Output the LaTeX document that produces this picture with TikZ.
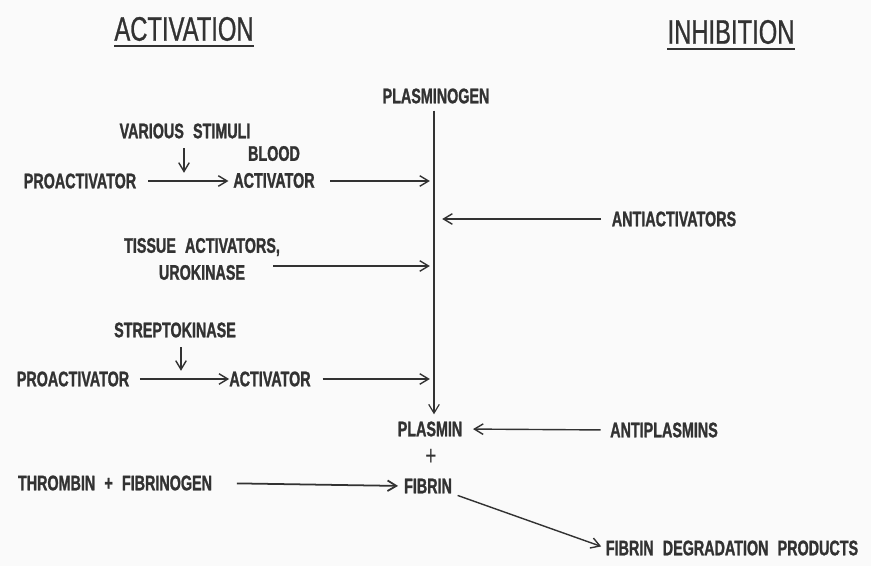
\documentclass[tikz,border=0pt]{standalone}
\usepackage{fontspec}
\newfontfamily\labelfont[FakeStretch=0.68,WordSpace=2.3,BoldFeatures={FakeBold=1.2}]{Liberation Sans}
\newfontfamily\titlefont[FakeStretch=0.7,FakeBold=0.8]{Liberation Sans}
\usetikzlibrary{arrows.meta}
\definecolor{ink}{RGB}{50,50,50}
\definecolor{paper}{RGB}{250,250,250}

\tikzset{
  lbl/.style={font=\labelfont\bfseries\fontsize{18}{20}\selectfont,text=ink,inner sep=0pt,align=center},
  ttl/.style={font=\titlefont\fontsize{29}{32}\selectfont,text=ink,inner sep=0pt},
  arr/.style={draw=ink,line width=1.2pt,-{Straight Barb[length=7.5pt,width=9pt]}},
  uline/.style={draw=ink,line width=1.7pt}
}

\begin{document}
\begin{tikzpicture}[x=0.03cm,y=-0.03cm]
\fill[paper] (0,0) rectangle (871,566);
\useasboundingbox (0,0) rectangle (871,566);
% headings
\node[ttl] (act) at (184,29) {ACTIVATION};
\node[ttl] (inh) at (731,32) {INHIBITION};
\draw[uline] ([yshift=-4pt]act.south west) -- ([yshift=-4pt]act.south east);
\draw[uline] ([yshift=-4pt]inh.south west) -- ([yshift=-4pt]inh.south east);
% main column
\coordinate (axis) at (434,0);
\node[lbl] (plg) at (436,96) {PLASMINOGEN};
\node[lbl] (plm) at (430,429) {PLASMIN};
\node[lbl,font=\labelfont\fontsize{24}{24}\selectfont] (plus) at (431,457) {+};
\node[lbl] (fib) at (428,486) {FIBRIN};
% activation side
\node[lbl] (stim) at (185,131) {VARIOUS STIMULI};
\node[lbl] (proA) at (80,181) {PROACTIVATOR};
\node[lbl] (blood) at (274,167) {BLOOD\\[3pt]ACTIVATOR};
\node[lbl] (tissue) at (202,259) {TISSUE ACTIVATORS,\\[3pt]UROKINASE};
\node[lbl] (strep) at (175,330) {STREPTOKINASE};
\node[lbl] (proB) at (73,379) {PROACTIVATOR};
\node[lbl] (actB) at (270,379) {ACTIVATOR};
\node[lbl] (thr) at (115,483) {THROMBIN + FIBRINOGEN};
% inhibition side
\node[lbl] (anti) at (674,219) {ANTIACTIVATORS};
\node[lbl] (antipl) at (664,430) {ANTIPLASMINS};
\node[lbl] (fdp) at (732,548) {FIBRIN DEGRADATION PRODUCTS};
\coordinate (stimx) at (184,0);
\coordinate (strepx) at (181,0);
\coordinate (tisstail) at (273,266);

\draw[arr,line width=1pt,shorten <=6pt,shorten >=6pt] (plg.south -| axis) -- (plm.north -| axis);
\draw[arr,shorten <=8pt,shorten >=7pt] (stim.south -| stimx) -- (proA -| stimx);
\draw[arr,shorten <=10pt,shorten >=4pt] (proA.east) -- (proA -| blood.west);
\draw[arr,shorten <=13pt,shorten >=3.5pt] (proA -| blood.east) -- (proA -| axis);
\draw[arr,shorten <=9pt,shorten >=7pt] (anti.west) -- (anti -| axis);
\draw[arr,shorten >=3.5pt] (tisstail) -- (tisstail -| axis);
\draw[arr,shorten <=8pt,shorten >=7pt] (strep.south -| strepx) -- (proB -| strepx);
\draw[arr,shorten <=9pt] (proB.east) -- (actB.west);
\draw[arr,shorten <=10pt,shorten >=3.5pt] (actB.east) -- (actB -| axis);
\draw[arr,shorten <=8pt,shorten >=9pt] (antipl.west) -- (plm.east);
\draw[arr,line width=1.5pt,shorten <=21pt,shorten >=5pt] (thr.east) -- (fib.west);
\draw[arr,shorten <=5pt,shorten >=4pt] (fib.south east) -- (fdp.west);
\end{tikzpicture}
\end{document}
